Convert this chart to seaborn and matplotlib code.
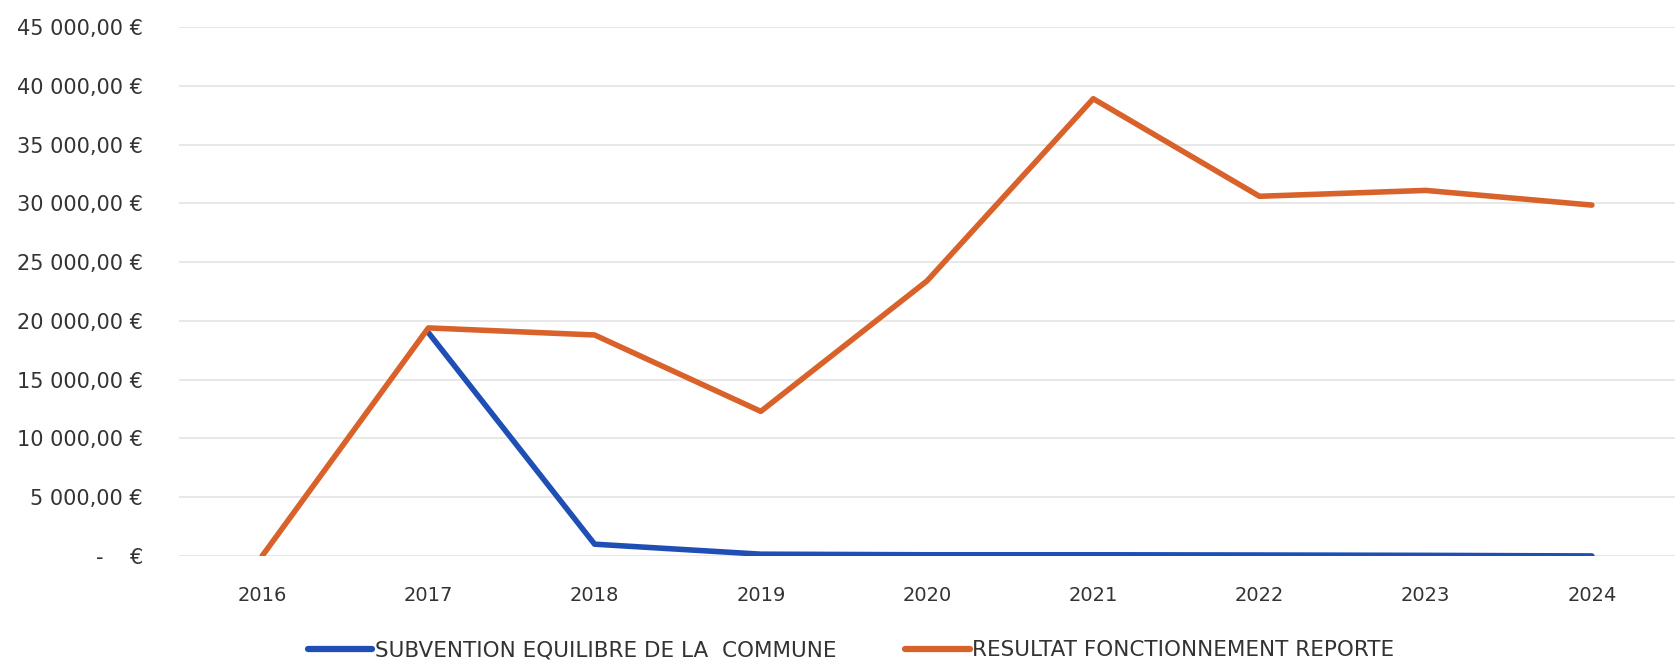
import numpy as np
import pandas as pd
import matplotlib
matplotlib.use("Agg")
import matplotlib.pyplot as plt
import seaborn as sns
from matplotlib.lines import Line2D

years = [2016, 2017, 2018, 2019, 2020, 2021, 2022, 2023, 2024]
subvention = [np.nan, 19000, 1000, 150, 100, 100, 80, 50, 0]
resultat = [0, 19400, 18800, 12300, 23400, 38900, 30600, 31100, 29850]
series_names = ["SUBVENTION EQUILIBRE DE LA  COMMUNE", "RESULTAT FONCTIONNEMENT REPORTE"]
colors = ["#1f4fb5", "#d8622a"]
y_ticks = [0, 5000, 10000, 15000, 20000, 25000, 30000, 35000, 40000, 45000]

df = pd.concat([
    pd.DataFrame({"Année": years, "Montant": subvention, "Série": series_names[0]}),
    pd.DataFrame({"Année": years, "Montant": resultat, "Série": series_names[1]}),
], ignore_index=True).dropna()

sns.set_theme(style="white")
plt.rcParams["font.family"] = ["DejaVu Sans"]

fig = plt.figure(figsize=(16.75, 6.69), dpi=100)
ax = fig.add_axes([0.1069, 0.169, 0.8931, 0.7906])

sns.lineplot(data=df, x="Année", y="Montant", hue="Série", hue_order=series_names,
             palette=colors, linewidth=4.0, ax=ax, legend=False)

def fmt(v):
    if v == 0:
        return "-    €"
    s = f"{v:,.2f}".replace(",", " ").replace(".", ",")
    return s + " €"

ax.set_ylim(0, 45000)
ax.set_xlim(2015.5, 2024.5)
ax.set_yticks(y_ticks)
ax.set_yticklabels([fmt(v) for v in y_ticks])
ax.set_xticks(years)
ax.set_xticklabels([str(y) for y in years])
ax.tick_params(axis="y", labelsize=15, pad=26, length=0, colors="#333333")
ax.tick_params(axis="x", labelsize=14, pad=22, length=0, colors="#333333")
ax.grid(axis="y", color="#e4e4e4", linewidth=1.2)
ax.grid(axis="x", visible=False)
for s in ax.spines.values():
    s.set_visible(False)
ax.set_xlabel("")
ax.set_ylabel("")

handles = [Line2D([], [], color=c, linewidth=4.5) for c in colors]
fig.legend(handles, series_names, loc="center", bbox_to_anchor=(0.508, 0.028),
           ncol=2, frameon=False, fontsize=15.5, handlelength=3.0, handletextpad=0.1,
           columnspacing=3.2, labelcolor="#333333")

fig.savefig("out.png", dpi=100, facecolor="white")
